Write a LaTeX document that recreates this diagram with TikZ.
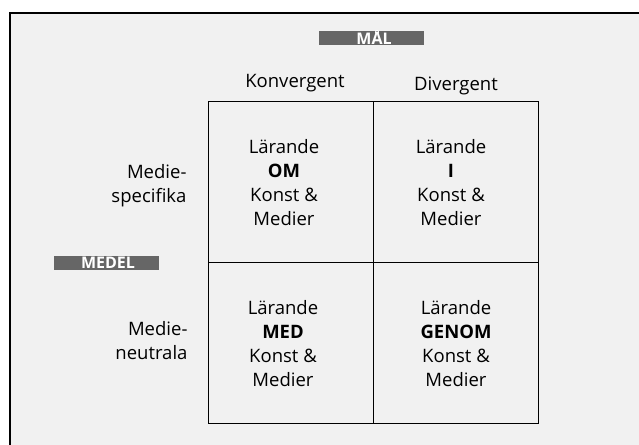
\documentclass[tikz,border=0pt]{standalone}
\usepackage{fontspec}
\setmainfont{Open Sans}
\begin{document}
\begin{tikzpicture}[x=1pt,y=-1pt,
  cell/.style={draw=black, line width=1.1pt, minimum width=165pt, minimum height=161pt, inner sep=0pt, anchor=north west},
  txt/.style={font=\fontsize{18.5}{24}\selectfont},
  celltext/.style={txt, align=center},
  rowlab/.style={txt, align=right, anchor=east},
  tagbar/.style={fill=black!60, minimum width=105pt, minimum height=14pt, inner sep=0pt},
  tagtext/.style={anchor=base, inner sep=0pt, text=white, font=\bfseries\fontsize{16}{16}\selectfont}]
  \useasboundingbox (0,0) rectangle (639,444);
  \fill[white] (0,0) rectangle (639,444);
  % panel with a heavy frame running off the page edge
  \fill[black!5.5] (10,13) rectangle (645,450);
  \draw[line width=2.6pt] (645,13) -- (10,13) -- (10,450);

  % the 2x2 grid
  \node[cell] (c11) at (208,101) {};
  \node[cell] (c12) at (373,101) {};
  \node[cell] (c21) at (208,262) {};
  \node[cell] (c22) at (373,262) {};

  % axis tags
  \node[tagbar] (malbar) at (371.5,38) {};
  \node[tagtext] (mal) at (374,44.5) {MÅL};
  \node[tagbar] (medelbar) at (106.5,263) {};
  \node[tagtext] (medel) at (108,268.5) {MEDEL};

  % column headings
  \node[txt] (konv) at (295,83) {Konvergent};
  \node[txt] (div) at (456,86) {Divergent};

  % row headings
  \node[rowlab] (spec) at (190,186) {Medie-\\specifika};
  \node[rowlab] (neut) at (191,341) {Medie-\\neutrala};

  % cell contents
  \node[celltext] at (284,183) {Lärande\\\textbf{OM}\\Konst \&\\Medier};
  \node[celltext] at (451,183) {Lärande\\\textbf{I}\\Konst \&\\Medier};
  \node[celltext] at (283,344) {Lärande\\\textbf{MED}\\Konst \&\\Medier};
  \node[celltext] at (456,344) {Lärande\\\textbf{GENOM}\\Konst \&\\Medier};
\end{tikzpicture}
\end{document}
